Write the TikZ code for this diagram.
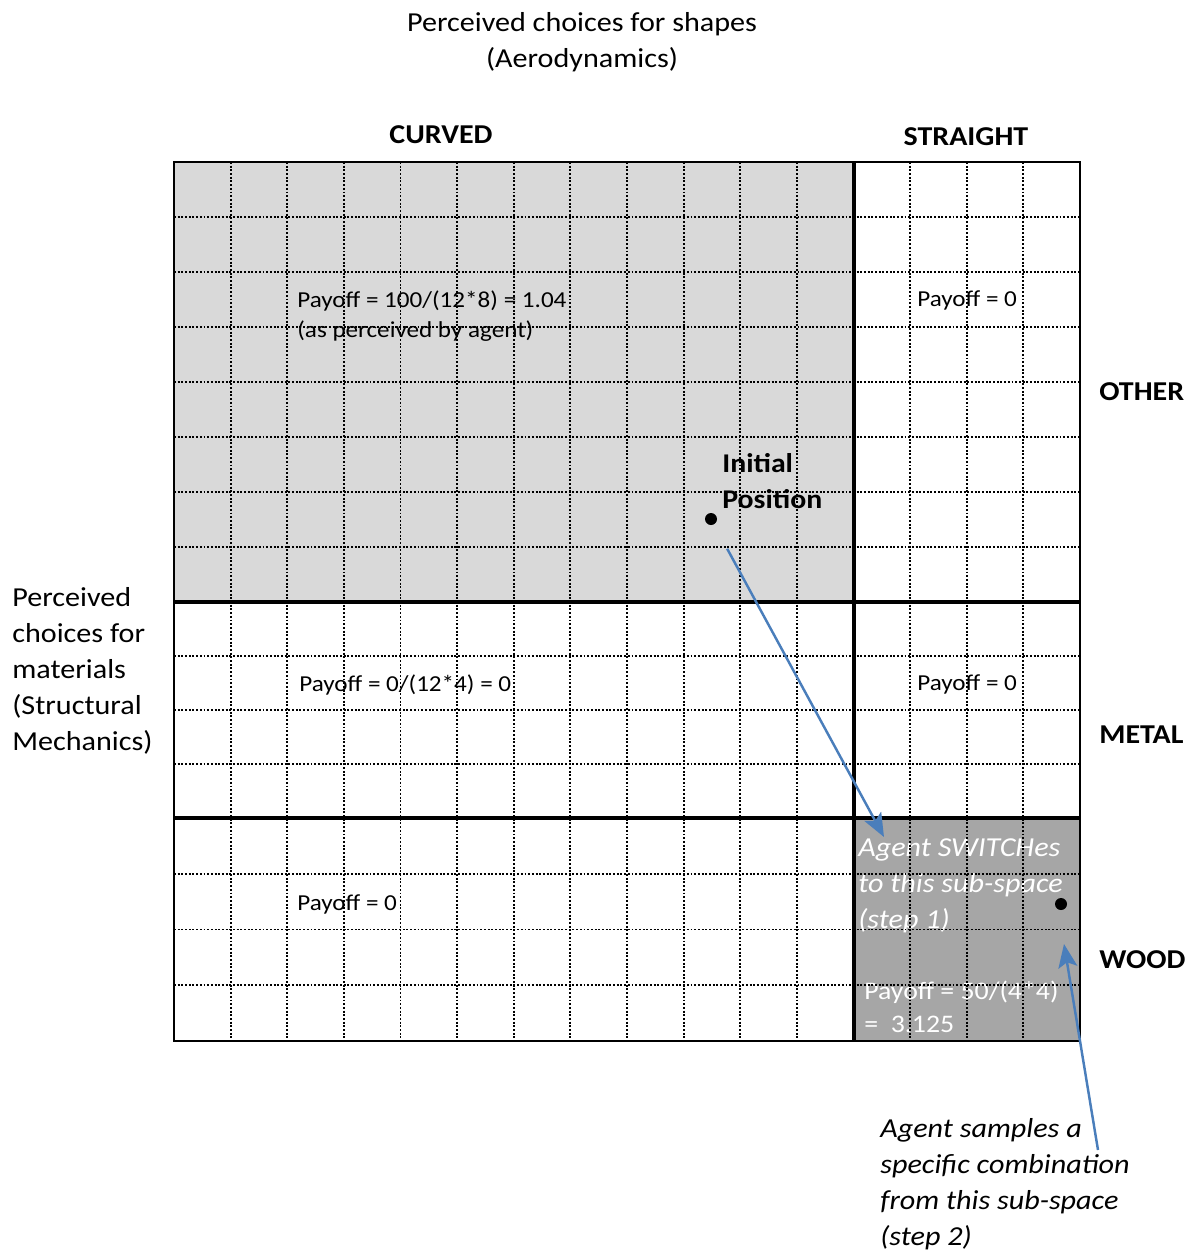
\documentclass[tikz,border=0pt]{standalone}
\usepackage{fontspec}
\setmainfont{Carlito}[FakeStretch=1.1]
\usetikzlibrary{arrows.meta}

\definecolor{shadelight}{HTML}{D9D9D9}
\definecolor{shadedark}{HTML}{A6A6A6}
\definecolor{arrowblue}{HTML}{4A7EBB}

\tikzset{
  lbl/.style={inner sep=0pt, font=\fontsize{15.6}{20.4}\selectfont},
  head/.style={inner sep=0pt, font=\fontsize{15.5}{20.4}\selectfont\bfseries},
  pay/.style={inner sep=0pt, anchor=west, align=left, font=\fontsize{13}{17}\selectfont},
  cell/.style={densely dotted, line width=1.1pt},
  bar/.style={line width=2pt},
  dot/.style={circle, fill=black, inner sep=0pt, minimum size=0.24cm},
  move/.style={arrowblue, line width=1.4pt, -{Stealth[length=0.47cm, width=0.38cm, inset=0.1cm]}},
}

\begin{document}
\begin{tikzpicture}[x=0.02cm, y=-0.02cm]
        \def\xmin{174}
        \def\xmid{854}
        \def\xmax{1080}
        \def\ymin{162}
        \def\yone{602}
        \def\ytwo{818}
        \def\ymax{1041}

  \useasboundingbox (0,0) rectangle (1196,1252);

  \fill[shadelight] (\xmin,\ymin) rectangle (\xmid,\yone);
  \fill[shadedark] (\xmid,\ytwo) rectangle (\xmax,\ymax);

\node[lbl, align=center] (shapetitle) at (582,42) {Perceived choices for shapes\\(Aerodynamics)};
\node[lbl, align=left, anchor=west] (materialtitle) at (12,671) {Perceived\\choices for\\materials\\(Structural\\Mechanics)};

\node[head] (curved) at (441,135) {CURVED};
\node[head] (straight) at (966,137) {STRAIGHT};
\node[head, anchor=west] (other) at (1099,392) {OTHER};
\node[head, anchor=west] (metal) at (1099,735) {METAL};
\node[head, anchor=west] (wood) at (1099,960) {WOOD};

\node[pay] (payco) at (297,316) {Payoff = 100/(12*8) = 1.04\\(as perceived by agent)};
\node[pay] (payso) at (917,300) {Payoff = 0};
\node[pay] (paycm) at (299,685) {Payoff = 0/(12*4) = 0};
\node[pay] (paysm) at (917,684) {Payoff = 0};
\node[pay] (paycw) at (297,904) {Payoff = 0};
\node[pay, text=white, font=\fontsize{14.4}{18.7}\selectfont] (paysw) at (864,1007) {Payoff = 50/(4*4)\\=~~3.125};

\node[head, align=left, anchor=west, font=\fontsize{15.4}{20.4}\selectfont\bfseries] (initial) at (722,481) {Initial\\Position};
\node[lbl, align=left, anchor=west, text=white, font=\fontsize{15.6}{20.4}\selectfont\itshape] (switch) at (858,886) {Agent SWITCHes\\to this sub-space\\(step 1)};
\node[lbl, align=left, anchor=west, font=\fontsize{15.6}{20.4}\selectfont\itshape] (sample) at (880,1184) {Agent samples a\\specific combination\\from this sub-space\\(step 2)};

  \foreach \i in {1,...,15} \draw[cell] (\xmin+\i*56.625,\ymin) -- (\xmin+\i*56.625,\ymax);
  \foreach \j in {1,...,7} \draw[cell] (\xmin,\ymin+\j*55) -- (\xmax,\ymin+\j*55);
  \foreach \j in {1,2,3} \draw[cell] (\xmin,\yone+\j*54) -- (\xmax,\yone+\j*54);
  \foreach \j in {1,2,3} \draw[cell] (\xmin,\ytwo+\j*55.75) -- (\xmax,\ytwo+\j*55.75);

  \draw[bar] (\xmid,\ymin) -- (\xmid,\ymax);
  \draw[bar] (\xmin,\yone) -- (\xmax,\yone);
  \draw[bar] (\xmin,\ytwo) -- (\xmax,\ytwo);
  \draw[line width=1.1pt] (\xmin,\ymin) rectangle (\xmax,\ymax);

\node[dot] (initpos) at (711,519) {};
\node[dot] (sampled) at (1061,904) {};

\coordinate (switchend) at (884,837);
\coordinate (samplestart) at (1098,1150);
\coordinate (sampleend) at (1064,944);

\draw[move, shorten <=0.55cm] (initpos) -- (switchend);
\draw[move] (samplestart) -- (sampleend);

\end{tikzpicture}
\end{document}
